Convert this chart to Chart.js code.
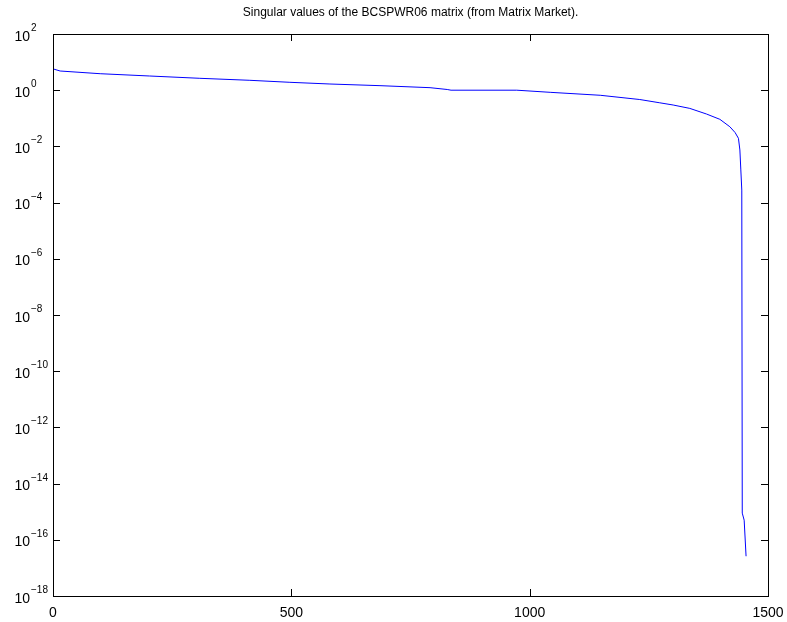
<!DOCTYPE html>
<html>
<head>
<meta charset="utf-8">
<title>Singular values of BCSPWR06</title>
<script src="https://cdn.jsdelivr.net/npm/chart.js@4/dist/chart.umd.min.js"></script>
<style>
    html, body { margin: 0; padding: 0; background: #fff; }
    #wrap { width: 787px; height: 622px; }
</style>
</head>
<body>
<div id="wrap"><canvas id="svdChart" width="787" height="622"></canvas></div>
<script>
/* ================= DATA ================= */
// index of the singular value
const idx = [1, 15, 99, 203, 308, 413, 497, 581, 686, 791, 827, 835, 973,
             1043, 1148, 1231, 1273, 1301, 1336, 1371, 1399, 1420, 1431,
             1438, 1441, 1443, 1445, 1446, 1450, 1454];
// singular value
const sigma = [5.68, 4.82, 3.86, 3.20, 2.65, 2.25, 1.91, 1.66, 1.45, 1.23, 1.06, 1.0, 1.0,
               0.84, 0.66, 0.466, 0.356, 0.297, 0.225, 0.142, 0.092, 0.050, 0.031,
               0.0194, 0.00745, 0.00145, 2.8e-4, 8.9e-16, 5.0e-16, 2.6e-17];

const xTicks = [0, 500, 1000, 1500];
const yExponents = [2, 0, -2, -4, -6, -8, -10, -12, -14, -16, -18];
const titleText = "Singular values of the BCSPWR06 matrix (from Matrix Market).";

/* ================= HELPERS ================= */
const FONT = "'Liberation Sans', Arial, Helvetica, sans-serif";
const TICK_LEN = 7;

function supText(n) {
    return n < 0 ? "\u2212" + Math.abs(n) : String(n);
}

/* ================= AXES PLUGIN ================= */
// draws a matlab-like box: frame, inward ticks on all sides, labels and title
const matlabAxes = {
    id: "matlabAxes",
    afterDraw(chart) {
        const ctx = chart.ctx;
        const area = chart.chartArea;
        const xs = chart.scales.x;
        const ys = chart.scales.y;

        ctx.save();
        ctx.strokeStyle = "#000";
        ctx.lineWidth = 1;

        // frame
        ctx.strokeRect(Math.round(area.left) + 0.5, Math.round(area.top) + 0.5,
            Math.round(area.right - area.left), Math.round(area.bottom - area.top));

        // x ticks (bottom + top)
        ctx.beginPath();
        xTicks.forEach(v => {
            const px = Math.round(xs.getPixelForValue(v)) + 0.5;
            ctx.moveTo(px, area.bottom);
            ctx.lineTo(px, area.bottom - TICK_LEN);
            ctx.moveTo(px, area.top);
            ctx.lineTo(px, area.top + TICK_LEN);
        });
        // y ticks (left + right)
        yExponents.forEach(e => {
            const py = Math.round(ys.getPixelForValue(Math.pow(10, e))) + 0.5;
            ctx.moveTo(area.left, py);
            ctx.lineTo(area.left + TICK_LEN, py);
            ctx.moveTo(area.right, py);
            ctx.lineTo(area.right - TICK_LEN, py);
        });
        ctx.stroke();

        ctx.fillStyle = "#000";

        // x labels
        ctx.font = "14px " + FONT;
        ctx.textAlign = "center";
        ctx.textBaseline = "alphabetic";
        xTicks.forEach(v => {
            ctx.fillText(String(v), xs.getPixelForValue(v), area.bottom + 20.5);
        });

        // y labels: "10" + raised exponent
        yExponents.forEach(e => {
            const py = ys.getPixelForValue(Math.pow(10, e));
            ctx.font = "14px " + FONT;
            ctx.textAlign = "right";
            ctx.fillText("10", 30, py + 6.5);
            ctx.font = "10px " + FONT;
            ctx.textAlign = "left";
            ctx.fillText(supText(e), 31, py - 3);
        });

        // title
        ctx.font = "12px " + FONT;
        ctx.textAlign = "center";
        ctx.textBaseline = "middle";
        ctx.fillText(titleText, (area.left + area.right) / 2, 12.5);

        ctx.restore();
    }
};

/* ================= CHART ================= */
const svdChart = new Chart(document.getElementById("svdChart"), {
    type: "line",
    data: {
        datasets: [{
            label: "singular values",
            data: idx.map((x, i) => ({ x: x, y: sigma[i] })),
            borderColor: "#0000ff",
            borderWidth: 1,
            pointRadius: 0,
            tension: 0,
            fill: false
        }]
    },
    options: {
        responsive: false,
        animation: false,
        devicePixelRatio: 1,
        layout: { padding: { left: 53, right: 19, top: 34, bottom: 26 } },
        plugins: {
            legend: { display: false },
            title: { display: false },
            tooltip: { enabled: false }
        },
        scales: {
            x: {
                type: "linear",
                display: false,
                min: 0,
                max: 1500
            },
            y: {
                type: "logarithmic",
                display: false,
                min: 1e-18,
                max: 1e2
            }
        }
    },
    plugins: [matlabAxes]
});
</script>
</body>
</html>
